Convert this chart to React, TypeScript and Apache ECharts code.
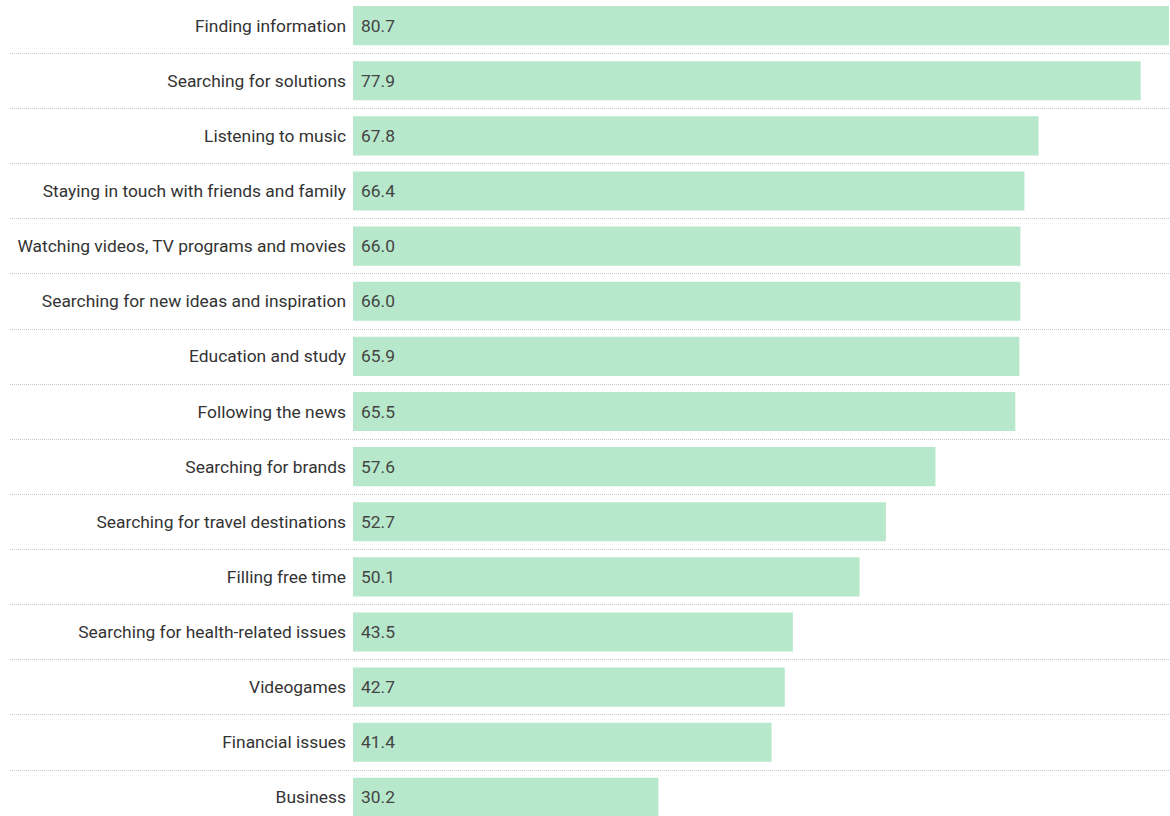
import React, { useEffect, useRef } from "react";
import * as echarts from "echarts";

const categories = [
  "Finding information",
  "Searching for solutions",
  "Listening to music",
  "Staying in touch with friends and family",
  "Watching videos, TV programs and movies",
  "Searching for new ideas and inspiration",
  "Education and study",
  "Following the news",
  "Searching for brands",
  "Searching for travel destinations",
  "Filling free time",
  "Searching for health-related issues",
  "Videogames",
  "Financial issues",
  "Business",
];

const values = [80.7, 77.9, 67.8, 66.4, 66.0, 66.0, 65.9, 65.5, 57.6, 52.7, 50.1, 43.5, 42.7, 41.4, 30.2];

export default function App() {
  const ref = useRef<HTMLDivElement>(null);
  useEffect(() => {
    if (!ref.current) return;
    const chart = echarts.init(ref.current, null, { renderer: "svg" });
    const top = -2;
    const height = 827;
    chart.setOption({
      animation: false,
      backgroundColor: "#ffffff",
      textStyle: { fontFamily: "Roboto" },
      grid: [
        { left: 353, width: 816, top, height, containLabel: false, outerBoundsMode: "none" },
        { left: 10, width: 1160, top, height, containLabel: false, outerBoundsMode: "none" },
      ],
      xAxis: [
        { type: "value", gridIndex: 0, min: 0, max: 80.7, show: false },
        { type: "value", gridIndex: 1, min: 0, max: 1, show: false },
      ],
      yAxis: [
        {
          type: "category",
          gridIndex: 0,
          data: categories,
          inverse: true,
          axisLine: { show: false },
          axisTick: { show: false },
          splitLine: { show: false },
          axisLabel: {
            color: "#333333",
            fontSize: 17.4,
            fontFamily: "Roboto",
            margin: 7,
          },
        },
        {
          type: "category",
          gridIndex: 1,
          data: categories,
          inverse: true,
          axisLine: { show: false },
          axisTick: { show: false },
          axisLabel: { show: false },
          splitLine: {
            show: true,
            lineStyle: { color: "#c8c8c8", type: [1, 1], width: 1 },
          },
        },
      ],
      series: [
        {
          type: "bar",
          xAxisIndex: 0,
          yAxisIndex: 0,
          data: values,
          barWidth: "71%",
          itemStyle: { color: "#b7e8cb" },
          label: {
            show: true,
            position: "insideLeft",
            distance: 8,
            color: "#444444",
            fontSize: 17.4,
            fontFamily: "Roboto",
            formatter: (p: any) => Number(p.value).toFixed(1),
          },
        },
      ],
    });
    return () => chart.dispose();
  }, []);
  return (
    <div
      ref={ref}
      style={{ position: "fixed", left: 0, top: 0, width: 1170, height: 816 }}
    />
  );
}
